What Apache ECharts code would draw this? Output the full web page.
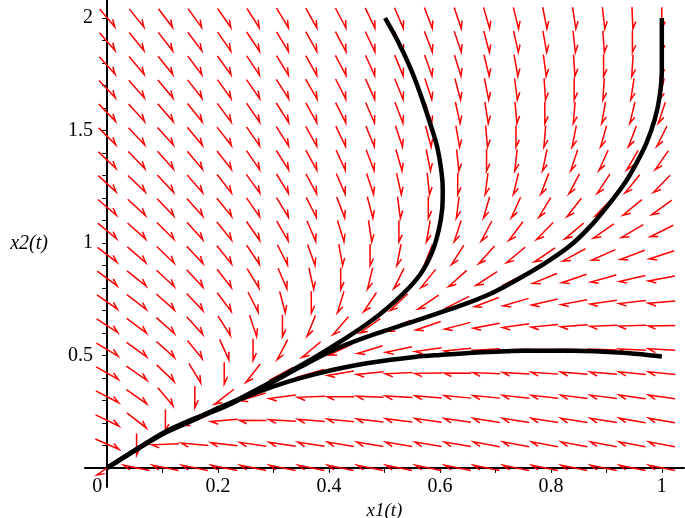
<!DOCTYPE html>
<html>
<head>
<meta charset="utf-8">
<script src="https://cdn.jsdelivr.net/npm/echarts@6/dist/echarts.min.js"></script>
<style>
  html, body { margin: 0; background: #fff; }
  #chart { width: 685px; height: 518px; }
</style>
</head>
<body>
<div id="chart"></div>
<script>
'use strict';

// grid of the direction field (20 x 20 points)
const fieldX = [0, 0.053, 0.105, 0.158, 0.211, 0.263, 0.316, 0.368, 0.421, 0.474,
  0.526, 0.579, 0.632, 0.684, 0.737, 0.789, 0.842, 0.895, 0.947, 1];
const fieldY = [0, 0.105, 0.211, 0.316, 0.421, 0.526, 0.632, 0.737, 0.842, 0.947,
  1.053, 1.158, 1.263, 1.368, 1.474, 1.579, 1.684, 1.789, 1.895, 2];

// arrow angle in degrees, measured on the grid cell scale
// rows from the top (x2 = 2) down to x2 = 0, columns from x1 = 0 to x1 = 1
const fieldAngle = [
  [-56, -57, -59, -60, -61, -63, -64, -66, -67, -69, -71, -73, -75, -77, -79, -81, -83, -85, -88, -90],
  [-55, -57, -58, -59, -61, -62, -64, -66, -67, -69, -71, -73, -75, -78, -80, -82, -85, -87, -90, -93],
  [-54, -56, -57, -59, -60, -62, -64, -66, -67, -70, -72, -74, -76, -79, -82, -84, -87, -90, -93, -96],
  [-53, -55, -56, -58, -60, -61, -63, -65, -68, -70, -72, -75, -78, -81, -84, -87, -90, -93, -97, -100],
  [-52, -54, -55, -57, -59, -61, -63, -66, -68, -71, -73, -76, -80, -83, -86, -90, -94, -98, -101, -105],
  [-51, -53, -54, -56, -58, -61, -63, -66, -69, -72, -75, -78, -82, -86, -90, -94, -99, -103, -107, -112],
  [-50, -52, -54, -56, -58, -61, -63, -66, -70, -73, -77, -81, -85, -90, -95, -100, -105, -110, -115, -119],
  [-49, -50, -53, -55, -58, -60, -64, -67, -71, -75, -80, -85, -90, -96, -101, -107, -113, -118, -123, -128],
  [-47, -49, -52, -54, -57, -61, -64, -68, -73, -78, -84, -90, -96, -103, -110, -116, -122, -128, -134, -138],
  [-46, -48, -51, -54, -57, -61, -65, -71, -76, -83, -90, -98, -105, -113, -121, -128, -134, -139, -144, -148],
  [-44, -47, -50, -53, -57, -62, -68, -74, -82, -90, -99, -108, -117, -126, -134, -140, -146, -151, -155, -158],
  [-43, -45, -49, -53, -58, -64, -71, -80, -90, -101, -112, -123, -132, -141, -147, -153, -157, -161, -164, -167],
  [-41, -44, -48, -53, -59, -68, -78, -90, -104, -118, -130, -140, -148, -155, -160, -164, -167, -170, -172, -174],
  [-39, -43, -48, -54, -63, -75, -90, -108, -125, -139, -149, -157, -162, -167, -170, -173, -175, -177, -178, -179],
  [-37, -42, -48, -57, -70, -90, -113, -134, -149, -159, -165, -170, -173, -176, -178, -180, 179, 178, 177, 176],
  [-35, -41, -50, -64, -90, -122, -146, -160, -168, -173, -177, -179, 179, 177, 176, 175, 174, 174, 173, 173],
  [-33, -41, -56, -90, -136, -160, -171, -177, 180, 177, 176, 174, 173, 173, 172, 172, 171, 171, 170, 170],
  [-31, -44, -90, -155, -174, 179, 176, 174, 173, 172, 171, 170, 170, 169, 169, 169, 169, 169, 168, 168],
  [-29, -90, -177, 174, 172, 170, 169, 169, 168, 168, 168, 168, 168, 167, 167, 167, 167, 167, 167, 167],
  [-139, 166, 166, 166, 166, 166, 166, 166, 166, 166, 166, 166, 166, 166, 166, 166, 166, 166, 166, 166]
];

// solution curves [x1, x2]
const curveA = [[0.501, 2.0], [0.523, 1.902], [0.546, 1.782], [0.564, 1.667], [0.582, 1.533],
  [0.595, 1.427], [0.603, 1.311], [0.605, 1.236], [0.604, 1.15], [0.598, 1.06], [0.586, 0.96],
  [0.565, 0.862], [0.532, 0.77], [0.49, 0.68], [0.44, 0.592], [0.392, 0.518], [0.348, 0.454],
  [0.288, 0.372], [0.219, 0.283], [0.159, 0.221], [0.105, 0.161], [0.056, 0.088], [0, 0]];
const curveB = [[1.0, 2.0], [1.0, 1.77], [0.996, 1.65], [0.987, 1.547], [0.972, 1.443],
  [0.954, 1.354], [0.933, 1.265], [0.906, 1.176], [0.876, 1.087], [0.84, 0.999], [0.798, 0.924],
  [0.75, 0.852], [0.696, 0.78], [0.638, 0.722], [0.558, 0.656], [0.468, 0.582], [0.408, 0.524],
  [0.348, 0.448], [0.288, 0.368], [0.219, 0.28], [0.159, 0.219], [0.105, 0.159], [0.056, 0.087], [0, 0]];
const curveC = [[1.0, 0.495], [0.93, 0.512], [0.84, 0.521], [0.75, 0.521], [0.66, 0.512],
  [0.6, 0.502], [0.558, 0.494], [0.468, 0.465], [0.408, 0.436], [0.348, 0.399], [0.3, 0.362],
  [0.25, 0.316], [0.2, 0.266], [0.159, 0.216], [0.105, 0.156], [0.056, 0.086], [0, 0]];

const xLabels = [0, 0.2, 0.4, 0.6, 0.8, 1];
const yLabels = [0.5, 1, 1.5, 2];
const xTicks = [0.1, 0.2, 0.3, 0.4, 0.5, 0.6, 0.7, 0.8, 0.9, 1];
const yTicks = [0.1, 0.2, 0.3, 0.4, 0.5, 0.6, 0.7, 0.8, 0.9, 1, 1.1, 1.2, 1.3, 1.4, 1.5,
  1.6, 1.7, 1.8, 1.9, 2];

const FONT = 'Liberation Serif';
const cellX = fieldX[1] - fieldX[0];
const cellY = fieldY[1] - fieldY[0];

const arrows = [];
fieldAngle.forEach(function(row, r) {
  const j = fieldY.length - 1 - r;
  row.forEach(function(a, i) {
    if (a !== null) {
      arrows.push([fieldX[i], fieldY[j], a]);
    }
  });
});

function renderArrow(params, api) {
  const x = api.value(0);
  const y = api.value(1);
  const a = api.value(2) * Math.PI / 180;
  const hx = 0.46 * cellX * Math.cos(a);
  const hy = 0.46 * cellY * Math.sin(a);
  const p0 = api.coord([x - hx, y - hy]);
  const p1 = api.coord([x + hx, y + hy]);
  const vx = p0[0] - p1[0];
  const vy = p0[1] - p1[1];
  const len = Math.sqrt(vx * vx + vy * vy) || 1;
  const b = 25 * Math.PI / 180;
  const ux = vx / len;
  const uy = vy / len;
  const bx = ux * Math.cos(b) - uy * Math.sin(b);
  const by = ux * Math.sin(b) + uy * Math.cos(b);
  const bl = 8;
  return {
    type: 'polyline',
    silent: true,
    shape: {points: [p0, p1, [p1[0] + bx * bl, p1[1] + by * bl]]},
    style: {stroke: '#ff0000', lineWidth: 1.5, fill: null, lineJoin: 'miter'}
  };
}

function curve(data) {
  return {
    type: 'line',
    data: data,
    showSymbol: false,
    smooth: 0.3,
    z: 5,
    silent: true,
    lineStyle: {color: '#000', width: 4.5}
  };
}

const chart = echarts.init(document.getElementById('chart'));
chart.setOption({
  animation: false,
  grid: {left: 85, right: 1, top: 0, bottom: 31, containLabel: false, outerBoundsMode: 'none'},
  xAxis: {
    type: 'value',
    min: -0.04,
    max: 1.04,
    name: 'x1(t)',
    nameLocation: 'middle',
    nameGap: 8,
    nameTextStyle: {fontFamily: FONT, fontStyle: 'italic', fontSize: 19, color: '#000'},
    axisLine: {onZero: true, lineStyle: {color: '#000', width: 2}},
    axisTick: {show: true, customValues: xTicks, length: 5, lineStyle: {color: '#000', width: 1}},
    axisLabel: {
      customValues: xLabels,
      margin: -10,
      fontFamily: FONT,
      fontSize: 20,
      color: '#000',
      formatter: function(v) {
        return v === 0 ? '{o|0}' : String(v);
      },
      rich: {o: {fontFamily: FONT, fontSize: 20, color: '#000', padding: [0, 20, 0, 0]}}
    },
    splitLine: {show: false}
  },
  yAxis: {
    type: 'value',
    min: -0.085,
    max: 2.08,
    name: 'x2(t)',
    nameLocation: 'middle',
    nameRotate: 0,
    nameGap: 37,
    nameTextStyle: {fontFamily: FONT, fontStyle: 'italic', fontSize: 20, color: '#000'},
    axisLine: {onZero: true, lineStyle: {color: '#000', width: 2}},
    axisTick: {show: true, customValues: yTicks, length: 5, lineStyle: {color: '#000', width: 1}},
    axisLabel: {customValues: yLabels, margin: -8, fontFamily: FONT, fontSize: 20, color: '#000'},
    splitLine: {show: false}
  },
  series: [
    {
      type: 'custom',
      data: arrows,
      renderItem: renderArrow,
      encode: {x: 0, y: 1},
      silent: true,
      z: 2
    },
    curve(curveA),
    curve(curveB),
    curve(curveC)
  ]
});
</script>
</body>
</html>
